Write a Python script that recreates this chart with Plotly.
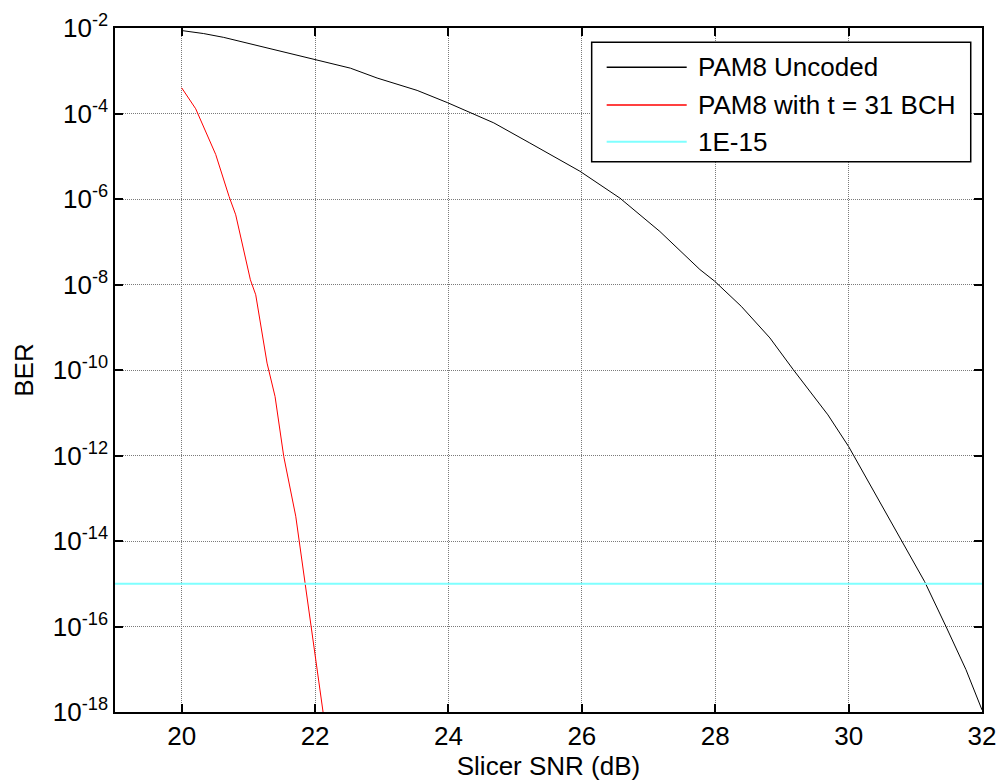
import plotly.graph_objects as go

# ---- data ----
snr_uncoded = [20.00, 20.33, 20.63, 21.03, 21.43, 22.00, 22.53, 22.93, 23.53, 23.99,
               24.28, 24.68, 25.22, 25.97, 26.57, 27.17, 27.77, 27.99, 28.39, 28.82,
               29.17, 29.69, 30.00, 30.31, 30.76, 31.14, 31.46, 31.76, 32.00]
ber_uncoded = [8.71e-3, 7.41e-3, 6.03e-3, 4.27e-3, 3.09e-3, 1.82e-3, 1.15e-3, 6.76e-4, 3.47e-4, 1.78e-4,
               1.12e-4, 6.03e-5, 2.04e-5, 4.47e-6, 1.05e-6, 1.74e-7, 2.24e-8, 1.20e-8, 3.09e-9, 5.62e-10,
               1.02e-10, 8.91e-12, 1.62e-12, 2.29e-13, 1.29e-14, 1.12e-15, 1.00e-16, 9.77e-18, 1.12e-18]

snr_bch = [20.00, 20.21, 20.51, 20.71, 20.81, 21.03, 21.11, 21.28, 21.40, 21.53,
           21.71, 21.84, 21.98, 22.12, 22.20]
ber_bch = [3.98e-4, 1.29e-4, 1.10e-5, 1.15e-6, 4.27e-7, 1.29e-8, 5.75e-9, 1.45e-10, 2.40e-11, 9.55e-13,
           3.80e-14, 1.23e-15, 4.07e-17, 1.00e-18, 1.26e-19]

snr_limit = [19, 32]
ber_limit = [1e-15, 1e-15]

series_names = ["PAM8 Uncoded", "PAM8 with t = 31 BCH", "1E-15"]
series_colors = ["#000000", "#ff0000", "#7fffff"]

x_ticks = [20, 22, 24, 26, 28, 30, 32]
y_exponents = [-18, -16, -14, -12, -10, -8, -6, -4, -2]

FONT = "Liberation Sans, Arial, Helvetica, sans-serif"
FS = 26

fig = go.Figure()
fig.add_trace(go.Scatter(x=snr_uncoded, y=ber_uncoded, mode="lines", name=series_names[0],
                         line=dict(color=series_colors[0], width=1), showlegend=False))
fig.add_trace(go.Scatter(x=snr_bch, y=ber_bch, mode="lines", name=series_names[1],
                         line=dict(color=series_colors[1], width=1), showlegend=False))
fig.add_trace(go.Scatter(x=snr_limit, y=ber_limit, mode="lines", name=series_names[2],
                         line=dict(color=series_colors[2], width=2), showlegend=False))

axis_common = dict(
    showline=True, linecolor="black", linewidth=1.5, mirror="allticks",
    ticks="inside", ticklen=8, tickwidth=1.5, tickcolor="black",
    showgrid=True, gridcolor="#7a7a7a", gridwidth=1, griddash="1px,1px",
    zeroline=False, automargin=False,
    tickfont=dict(family=FONT, size=FS, color="black"),
)

fig.update_xaxes(range=[19, 32], tickmode="array", tickvals=x_ticks,
                 ticktext=[str(v) for v in x_ticks],
                 title=dict(text="Slicer SNR (dB)", font=dict(family=FONT, size=FS, color="black"),
                            standoff=1),
                 **axis_common)
fig.update_yaxes(type="log", range=[-18, -2], tickmode="array",
                 tickvals=[10.0 ** e for e in y_exponents],
                 ticktext=["10<sup>%d</sup>" % e for e in y_exponents],
                 title=dict(text="BER", font=dict(family=FONT, size=FS, color="black"),
                            standoff=12),
                 **axis_common)

# ---- MATLAB-style legend box ----
lx0, lx1, ly0, ly1 = 0.5498, 0.9870, 0.8045, 0.9791
sx0, sx1, tx = 0.5671, 0.6594, 0.6701
rows = [0.9425, 0.8874, 0.8338]
shapes = [dict(type="rect", xref="paper", yref="paper", x0=lx0, x1=lx1, y0=ly0, y1=ly1,
               fillcolor="white", line=dict(color="black", width=1.5), layer="above")]
annotations = []
for name, col, ry in zip(series_names, series_colors, rows):
    shapes.append(dict(type="line", xref="paper", yref="paper", x0=sx0, x1=sx1, y0=ry, y1=ry,
                       line=dict(color=col, width=1.5 if col != "#7fffff" else 2), layer="above"))
    annotations.append(dict(xref="paper", yref="paper", x=tx, y=ry, text=name, showarrow=False,
                            xanchor="left", yanchor="middle",
                            font=dict(family=FONT, size=FS, color="black")))

fig.update_layout(
    width=998, height=783,
    margin=dict(l=115, r=16, t=28, b=71),
    paper_bgcolor="white", plot_bgcolor="white",
    font=dict(family=FONT, size=FS, color="black"),
    shapes=shapes, annotations=annotations, showlegend=False,
)

# remove the default 8px page margin so the figure fills the window exactly
fig.write_html("out.html",
               config={"displayModeBar": False},
               post_script="document.body.style.margin='0';document.body.style.overflow='hidden';")
